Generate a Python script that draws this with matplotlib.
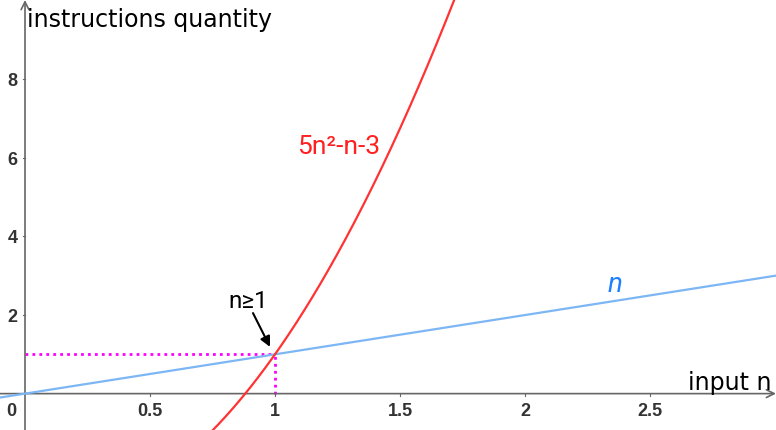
import numpy as np
import matplotlib
matplotlib.use('Agg')
import matplotlib.pyplot as plt

# function coefficients (highest power first)
red_coef = [5, -1, -3]      # 5n^2 - n - 3
blue_coef = [1, 0]          # n
meet_x, meet_y = 1, 1       # where the two curves cross

xticks = [0.5, 1, 1.5, 2, 2.5]
xtick_labels = ['0.5', '1', '1.5', '2', '2.5']
yticks = [2, 4, 6, 8]
ytick_labels = ['2', '4', '6', '8']

xmin, xmax = -0.1, 3.004
ymin, ymax = -0.926, 10.02

fig = plt.figure(figsize=(7.76, 4.30), dpi=100)
ax = fig.add_axes([0, 0, 1, 1])
ax.set_xlim(xmin, xmax)
ax.set_ylim(ymin, ymax)
for s in ax.spines.values():
    s.set_visible(False)

axis_col = '#666666'
# axes with open arrow heads
ax.annotate('', xy=(1.0, 0), xytext=(0.0, 0), xycoords=('axes fraction', 'data'),
            arrowprops=dict(arrowstyle='->', color=axis_col, lw=1.2, mutation_scale=14,
                            shrinkA=0, shrinkB=0))
ax.annotate('', xy=(0, 1.0), xytext=(0, 0.0), xycoords=('data', 'axes fraction'),
            arrowprops=dict(arrowstyle='->', color=axis_col, lw=1.2, mutation_scale=14,
                            shrinkA=0, shrinkB=0))

ax.set_xticks(xticks)
ax.set_yticks(yticks)
ax.set_xticklabels([])
ax.set_yticklabels([])
ax.tick_params(length=0)
tick_font = dict(family='Liberation Sans', weight='bold', size=13, color='#333333')
for x, lab in zip(xticks, xtick_labels):
    ax.plot([x, x], [0, -0.06], color=axis_col, lw=0.8)
    ax.annotate(lab, xy=(x, 0), xytext=(0, -6.5), textcoords='offset points',
                ha='center', va='top', **tick_font)
for y, lab in zip(yticks, ytick_labels):
    ax.plot([0, -0.008], [y, y], color=axis_col, lw=0.8)
    ax.annotate(lab, xy=(0, y), xytext=(-5.5, -1.5), textcoords='offset points',
                ha='right', va='center', **tick_font)
ax.annotate('0', xy=(0, 0), xytext=(-6, -6.5), textcoords='offset points',
            ha='right', va='top', **tick_font)

# axis titles
fig.text(27 / 776, 1 - 27 / 430, 'instructions quantity', family='DejaVu Sans',
         size=17, ha='left', va='baseline')
fig.text(771 / 776, 1 - 390 / 430, 'input n', family='DejaVu Sans',
         size=17, ha='right', va='baseline')

xs = np.linspace(xmin, xmax, 600)
ax.plot(xs, np.polyval(blue_coef, xs), color='#7DB6F4', lw=1.6, zorder=3)
ax.plot(xs, np.polyval(red_coef, xs), color='#FF3333', lw=1.6, zorder=4)

# dotted guides to the meeting point
ax.plot([0, meet_x], [meet_y, meet_y], color='#FF00FF', lw=2, ls=(0, (1, 1.5)), zorder=2)
ax.plot([meet_x, meet_x], [0, meet_y], color='#FF00FF', lw=2, ls=(0, (1, 1.5)), zorder=2)

lab_fam = ['Roboto', 'DejaVu Sans']
ax.text(1.088, 6.1, '5n²-n-3', color='#FF2020', size=19, family=lab_fam,
        ha='left', va='baseline')
ax.text(2.36, 2.585, 'n', color='#1E80FF', size=20, family=lab_fam, style='italic',
        ha='center', va='baseline')
ax.text(0.812, 2.19, 'n≥1', color='black', size=17.5, family=lab_fam,
        ha='left', va='baseline')
ax.annotate('', xy=(0.98, 1.19), xytext=(0.912, 2.05),
            arrowprops=dict(arrowstyle='-|>', color='black', lw=1.5, mutation_scale=15,
                            shrinkA=0, shrinkB=0))

fig.savefig('out.png', dpi=100)
